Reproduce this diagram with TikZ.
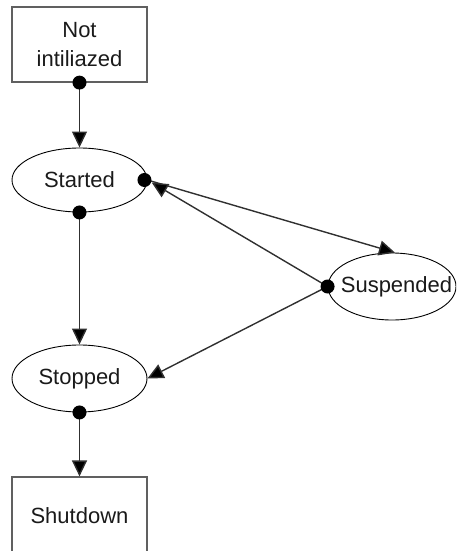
\documentclass[tikz,border=0pt]{standalone}
\usepackage{fontspec}
\setmainfont{Liberation Sans}
\usetikzlibrary{arrows.meta,shapes.geometric}
\definecolor{boxline}{HTML}{606060}
\definecolor{conline}{HTML}{303030}
\definecolor{txt}{HTML}{1A1A1A}
\begin{document}
\begin{tikzpicture}[x=1pt,y=-1pt,
  every node/.style={font=\fontsize{22}{29}\selectfont, text=txt},
  statebox/.style={draw=boxline, line width=1.2pt, rectangle, minimum width=135pt, inner sep=0pt, align=center},
  stateell/.style={draw=black, line width=0.9pt, ellipse, inner sep=0pt},
  dot/.style={circle, fill=black, minimum size=14pt, inner sep=0pt},
  conn/.style={draw=conline, line width=1.4pt, -{Triangle[length=16pt,width=15pt,fill=black]}}]
\clip (0,0) rectangle (456,551);
\node[statebox, minimum height=75pt] (notinit) at (79.5,44.5) {Not\\intiliazed};
\node[stateell, minimum width=135pt, minimum height=64pt] (started) at (79.5,180) {\makebox[0pt]{Started}};
\node[stateell, minimum width=135pt, minimum height=67pt] (stopped) at (79.5,378.5) {\makebox[0pt]{Stopped}};
\node[stateell, minimum width=128pt, minimum height=67pt] (susp) at (392,286.5) {\makebox[0pt]{\kern9pt Suspended}};
\node[statebox, minimum height=78pt] (shut) at (79.5,516) {Shutdown};
\draw[conn] (notinit.south) -- (started.north);
\draw[conn] (started.south) -- (stopped.north);
\draw[conn] (stopped.south) -- (shut.north);
\draw[conn] (started.east) -- (susp.85);
\draw[conn, shorten >=5pt] (susp.west) -- (started.east);
\draw[conn] (susp.west) -- (stopped.east);
\node[dot] (d1) at (notinit.south) {};
\node[dot] (d2) at ([xshift=-3pt]started.east) {};
\node[dot] (d3) at (started.south) {};
\node[dot] (d4) at (susp.west) {};
\node[dot] (d5) at (stopped.south) {};
\end{tikzpicture}
\end{document}
